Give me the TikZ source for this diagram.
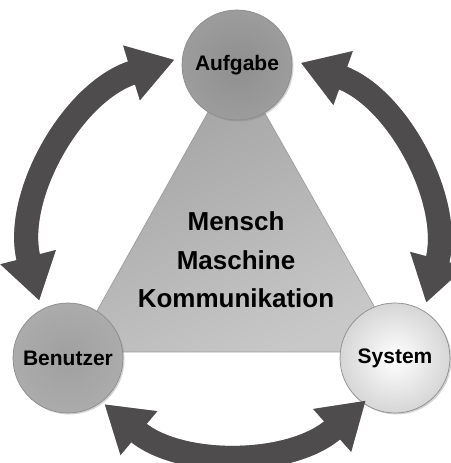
\documentclass[tikz,border=0pt]{standalone}
\usepackage{fontspec}
\setmainfont{Liberation Sans}
\usetikzlibrary{arrows.meta,shadows}
\definecolor{arrowGray}{HTML}{4E4C4C}
\definecolor{taskGray}{HTML}{8F8F8F}
\definecolor{userGray}{HTML}{A0A0A0}
\definecolor{systemGray}{HTML}{D6D6D6}
\definecolor{triTop}{HTML}{A0A0A0}
\definecolor{triBottom}{HTML}{C8C8C8}
\newcommand{\ringRadius}{200pt}
\newcommand{\labelFont}{\fontsize{21}{25}\selectfont\bfseries}
\newcommand{\centerFont}{\fontsize{26}{38.5}\selectfont\bfseries}
\tikzset{
  topic/.style={circle, minimum size=110pt, inner sep=0pt, draw=black!45, line width=0.7pt,
    font=\labelFont, drop shadow={shadow xshift=1.5pt, shadow yshift=-1.5pt, opacity=.35}},
  loop/.style={draw=arrowGray, line width=24pt,
    {Triangle[width=54pt,length=45pt]}-{Triangle[width=54pt,length=45pt]}},
  loopshadow/.style={loop, draw=black!35, shift={(1.5,-1.5)}}
}
\begin{document}
\begin{tikzpicture}[x=1pt, y=1pt]
\useasboundingbox (0,0) rectangle (450,463);
\coordinate (hub) at (233,212);
% triangle behind the three circles
\shade[top color=triTop, bottom color=triBottom, shading angle=25, draw=black!40, line width=0.6pt, rounded corners=4pt]
  (236,401) -- (74,111) -- (400,111) -- cycle;
\node[font=\centerFont, align=center] (mmk) at (236,203) {Mensch\\Maschine\\Kommunikation};
\node[topic, inner color=taskGray, outer color=taskGray!88!white] (task) at (237,398) {Aufgabe};
\node[topic, inner color=userGray, outer color=userGray!88!white] (user) at (68,105) {Benutzer};
\node[topic, inner color=white, outer color=systemGray] (system) at (395,105) {System};
% double arrows round the hub
\draw[loopshadow] ([shift={(107:\ringRadius)}]hub) arc[start angle=107, end angle=194.4, radius=\ringRadius];
\draw[loopshadow] ([shift={(70.2:\ringRadius)}]hub) arc[start angle=70.2, end angle=-15, radius=\ringRadius];
\draw[loopshadow] ([shift={(230:\ringRadius)}]hub) arc[start angle=230, end angle=311.6, radius=\ringRadius];
\draw[loop] ([shift={(107:\ringRadius)}]hub) arc[start angle=107, end angle=194.4, radius=\ringRadius];
\draw[loop] ([shift={(70.2:\ringRadius)}]hub) arc[start angle=70.2, end angle=-15, radius=\ringRadius];
\draw[loop] ([shift={(230:\ringRadius)}]hub) arc[start angle=230, end angle=311.6, radius=\ringRadius];
\end{tikzpicture}
\end{document}
